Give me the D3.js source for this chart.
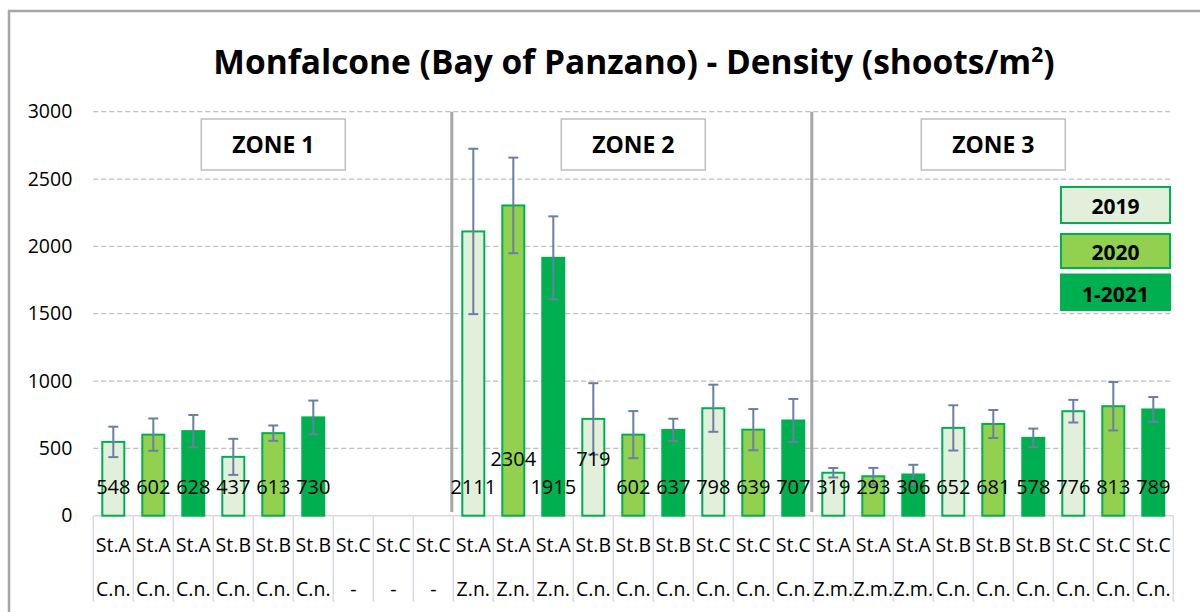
<!DOCTYPE html>
<html>
<head>
<meta charset="utf-8">
<script src="https://cdn.jsdelivr.net/npm/d3@7"></script>
<style>
  body { margin: 0; background: #fff; }
  svg { display: block; font-family: "Open Sans", sans-serif; }
</style>
</head>
<body>
<div id="vis"></div>
<script>
// categories (two-line axis labels)
const stations = ["St.A","St.A","St.A","St.B","St.B","St.B","St.C","St.C","St.C",
                  "St.A","St.A","St.A","St.B","St.B","St.B","St.C","St.C","St.C",
                  "St.A","St.A","St.A","St.B","St.B","St.B","St.C","St.C","St.C"];
const species = ["C.n.","C.n.","C.n.","C.n.","C.n.","C.n.","-","-","-",
                 "Z.n.","Z.n.","Z.n.","C.n.","C.n.","C.n.","C.n.","C.n.","C.n.",
                 "Z.m.","Z.m.","Z.m.","C.n.","C.n.","C.n.","C.n.","C.n.","C.n."];
const years = ["2019", "2020", "1-2021"];
const zones = ["ZONE 1", "ZONE 2", "ZONE 3"];

// density (shoots/m2) and error bar half-widths, one per category
const density = [548, 602, 628, 437, 613, 730, null, null, null,
                 2111, 2304, 1915, 719, 602, 637, 798, 639, 707,
                 319, 293, 306, 652, 681, 578, 776, 813, 789];
const errors  = [113, 120, 120, 134, 57, 125, null, null, null,
                 614, 355, 308, 265, 175, 83, 175, 153, 160,
                 35, 62, 72, 168, 104, 69, 84, 180, 92];

const yTicks = [0, 500, 1000, 1500, 2000, 2500, 3000];

const fills   = { "2019": "#e2efda", "2020": "#92d050", "1-2021": "#00b050" };
const strokes = { "2019": "#00b050", "2020": "#00b050", "1-2021": "#00b050" };

const W = 1200, H = 612;
const svg = d3.select("#vis").append("svg").attr("width", W).attr("height", H);

svg.append("rect").attr("width", W).attr("height", H).attr("fill", "#fff");

// outer chart border (top + left visible)
svg.append("path")
  .attr("d", `M9,${H} V11 H${W}`)
  .attr("fill", "none").attr("stroke", "#a6a6a6").attr("stroke-width", 2.5);

const x = d3.scaleBand().domain(d3.range(stations.length)).range([93.3, 1173.3]);
const y = d3.scaleLinear().domain([0, 3000]).range([515.7, 111.7]);
const bw = x.bandwidth() * 0.55;

// title
const title = svg.append("text")
  .attr("x", 634).attr("y", 74)
  .attr("text-anchor", "middle")
  .attr("font-weight", "bold").attr("font-size", 33.5);
title.append("tspan").text("Monfalcone (Bay of Panzano) - Density (shoots/m");
title.append("tspan").attr("font-size", 21).attr("dy", -12).text("2");
title.append("tspan").attr("dy", 12).text(")");

// gridlines
svg.append("g").selectAll("line")
  .data(yTicks.filter(d => d > 0))
  .join("line")
  .attr("x1", x.range()[0]).attr("x2", x.range()[1])
  .attr("y1", d => y(d)).attr("y2", d => y(d))
  .attr("stroke", "#bfbfbf").attr("stroke-width", 1.3)
  .attr("stroke-dasharray", "5,3");

// y axis labels
const yAxis = svg.append("g")
  .attr("transform", `translate(${x.range()[0]},0)`)
  .call(d3.axisLeft(y).tickValues(yTicks).tickSize(0).tickPadding(21).tickFormat(d3.format("d")));
yAxis.select(".domain").remove();
yAxis.selectAll("text").attr("font-size", 19.5).attr("fill", "#000")
  .attr("font-family", "Open Sans, sans-serif");

// category axis line + dividers
svg.append("line")
  .attr("x1", x.range()[0]).attr("x2", x.range()[1])
  .attr("y1", y(0)).attr("y2", y(0))
  .attr("stroke", "#d9d9d9").attr("stroke-width", 1.5);
svg.append("g").selectAll("line")
  .data(d3.range(stations.length + 1))
  .join("line")
  .attr("x1", i => x.range()[0] + i * x.step()).attr("x2", i => x.range()[0] + i * x.step())
  .attr("y1", y(0)).attr("y2", 602)
  .attr("stroke", "#d6dce5").attr("stroke-width", 1.5);

const cat = svg.append("g").selectAll("g")
  .data(d3.range(stations.length))
  .join("g")
  .attr("transform", i => `translate(${x(i) + x.bandwidth() / 2},0)`);
cat.append("text").attr("y", 552).attr("text-anchor", "middle")
  .attr("font-size", 19.5).text(i => stations[i]);
cat.append("text").attr("y", 596).attr("text-anchor", "middle")
  .attr("font-size", 19.5).text(i => species[i]);

// zone separators
svg.append("g").selectAll("line")
  .data([1, 2])
  .join("line")
  .attr("x1", z => x(z * 9) - 1.5).attr("x2", z => x(z * 9) - 1.5)
  .attr("y1", y(3000)).attr("y2", 512)
  .attr("stroke", "#a6a6a6").attr("stroke-width", 3);

// zone labels
const zg = svg.append("g").selectAll("g")
  .data(zones)
  .join("g")
  .attr("transform", (z, k) => {
    const cx = (x(k * 9) + x(k * 9 + 8) + x.bandwidth()) / 2;
    return `translate(${cx},0)`;
  });
zg.append("rect")
  .attr("x", -72).attr("y", 119).attr("width", 144).attr("height", 51)
  .attr("fill", "#fff").attr("stroke", "#bfbfbf").attr("stroke-width", 1.5);
zg.append("text")
  .attr("y", 153).attr("text-anchor", "middle")
  .attr("font-weight", "bold").attr("font-size", 23)
  .text(d => d);

// bars
const rows = d3.range(density.length)
  .filter(i => density[i] != null)
  .map(i => ({ i, v: density[i], e: errors[i], year: years[i % 3] }));

svg.append("g").selectAll("rect")
  .data(rows)
  .join("rect")
  .attr("x", d => x(d.i) + (x.bandwidth() - bw) / 2)
  .attr("width", bw)
  .attr("y", d => y(d.v))
  .attr("height", d => y(0) - y(d.v))
  .attr("fill", d => fills[d.year])
  .attr("stroke", d => strokes[d.year])
  .attr("stroke-width", 2);

// error bars
const eb = svg.append("g").attr("stroke", "#6a80a3").attr("stroke-width", 2)
  .selectAll("g").data(rows).join("g")
  .attr("transform", d => `translate(${x(d.i) + x.bandwidth() / 2},0)`);
eb.append("line").attr("y1", d => y(d.v + d.e)).attr("y2", d => y(d.v - d.e));
eb.append("line").attr("x1", -5).attr("x2", 5)
  .attr("y1", d => y(d.v + d.e)).attr("y2", d => y(d.v + d.e));
eb.append("line").attr("x1", -5).attr("x2", 5)
  .attr("y1", d => y(d.v - d.e)).attr("y2", d => y(d.v - d.e));

// data labels; nudge a label up when it would collide with its left neighbour
const labels = svg.append("g").selectAll("text")
  .data(rows)
  .join("text")
  .attr("x", d => x(d.i) + x.bandwidth() / 2)
  .attr("y", y(215))
  .attr("dy", "0.35em")
  .attr("text-anchor", "middle")
  .attr("font-size", 20)
  .text(d => d.v);
let prev = null;
labels.each(function () {
  const b = this.getBBox();
  if (prev && prev.x + prev.width > b.x - 1 && Math.abs(prev.y - b.y) < b.height * 0.8) {
    d3.select(this).attr("y", y(215) - 28);
    prev = this.getBBox();
  } else {
    prev = b;
  }
});

// legend
const lg = svg.append("g").selectAll("g")
  .data(years)
  .join("g")
  .attr("transform", (d, k) => `translate(1061,${[187, 234, 274.5][k]})`);
lg.append("rect")
  .attr("width", 109).attr("height", (d, k) => [36, 34, 35.5][k])
  .attr("fill", d => fills[d]).attr("stroke", d => strokes[d]).attr("stroke-width", 2);
lg.append("text")
  .attr("x", 54.5).attr("y", (d, k) => [27, 26, 27][k])
  .attr("text-anchor", "middle")
  .attr("font-weight", "bold").attr("font-size", 21)
  .text(d => d);
</script>
</body>
</html>
